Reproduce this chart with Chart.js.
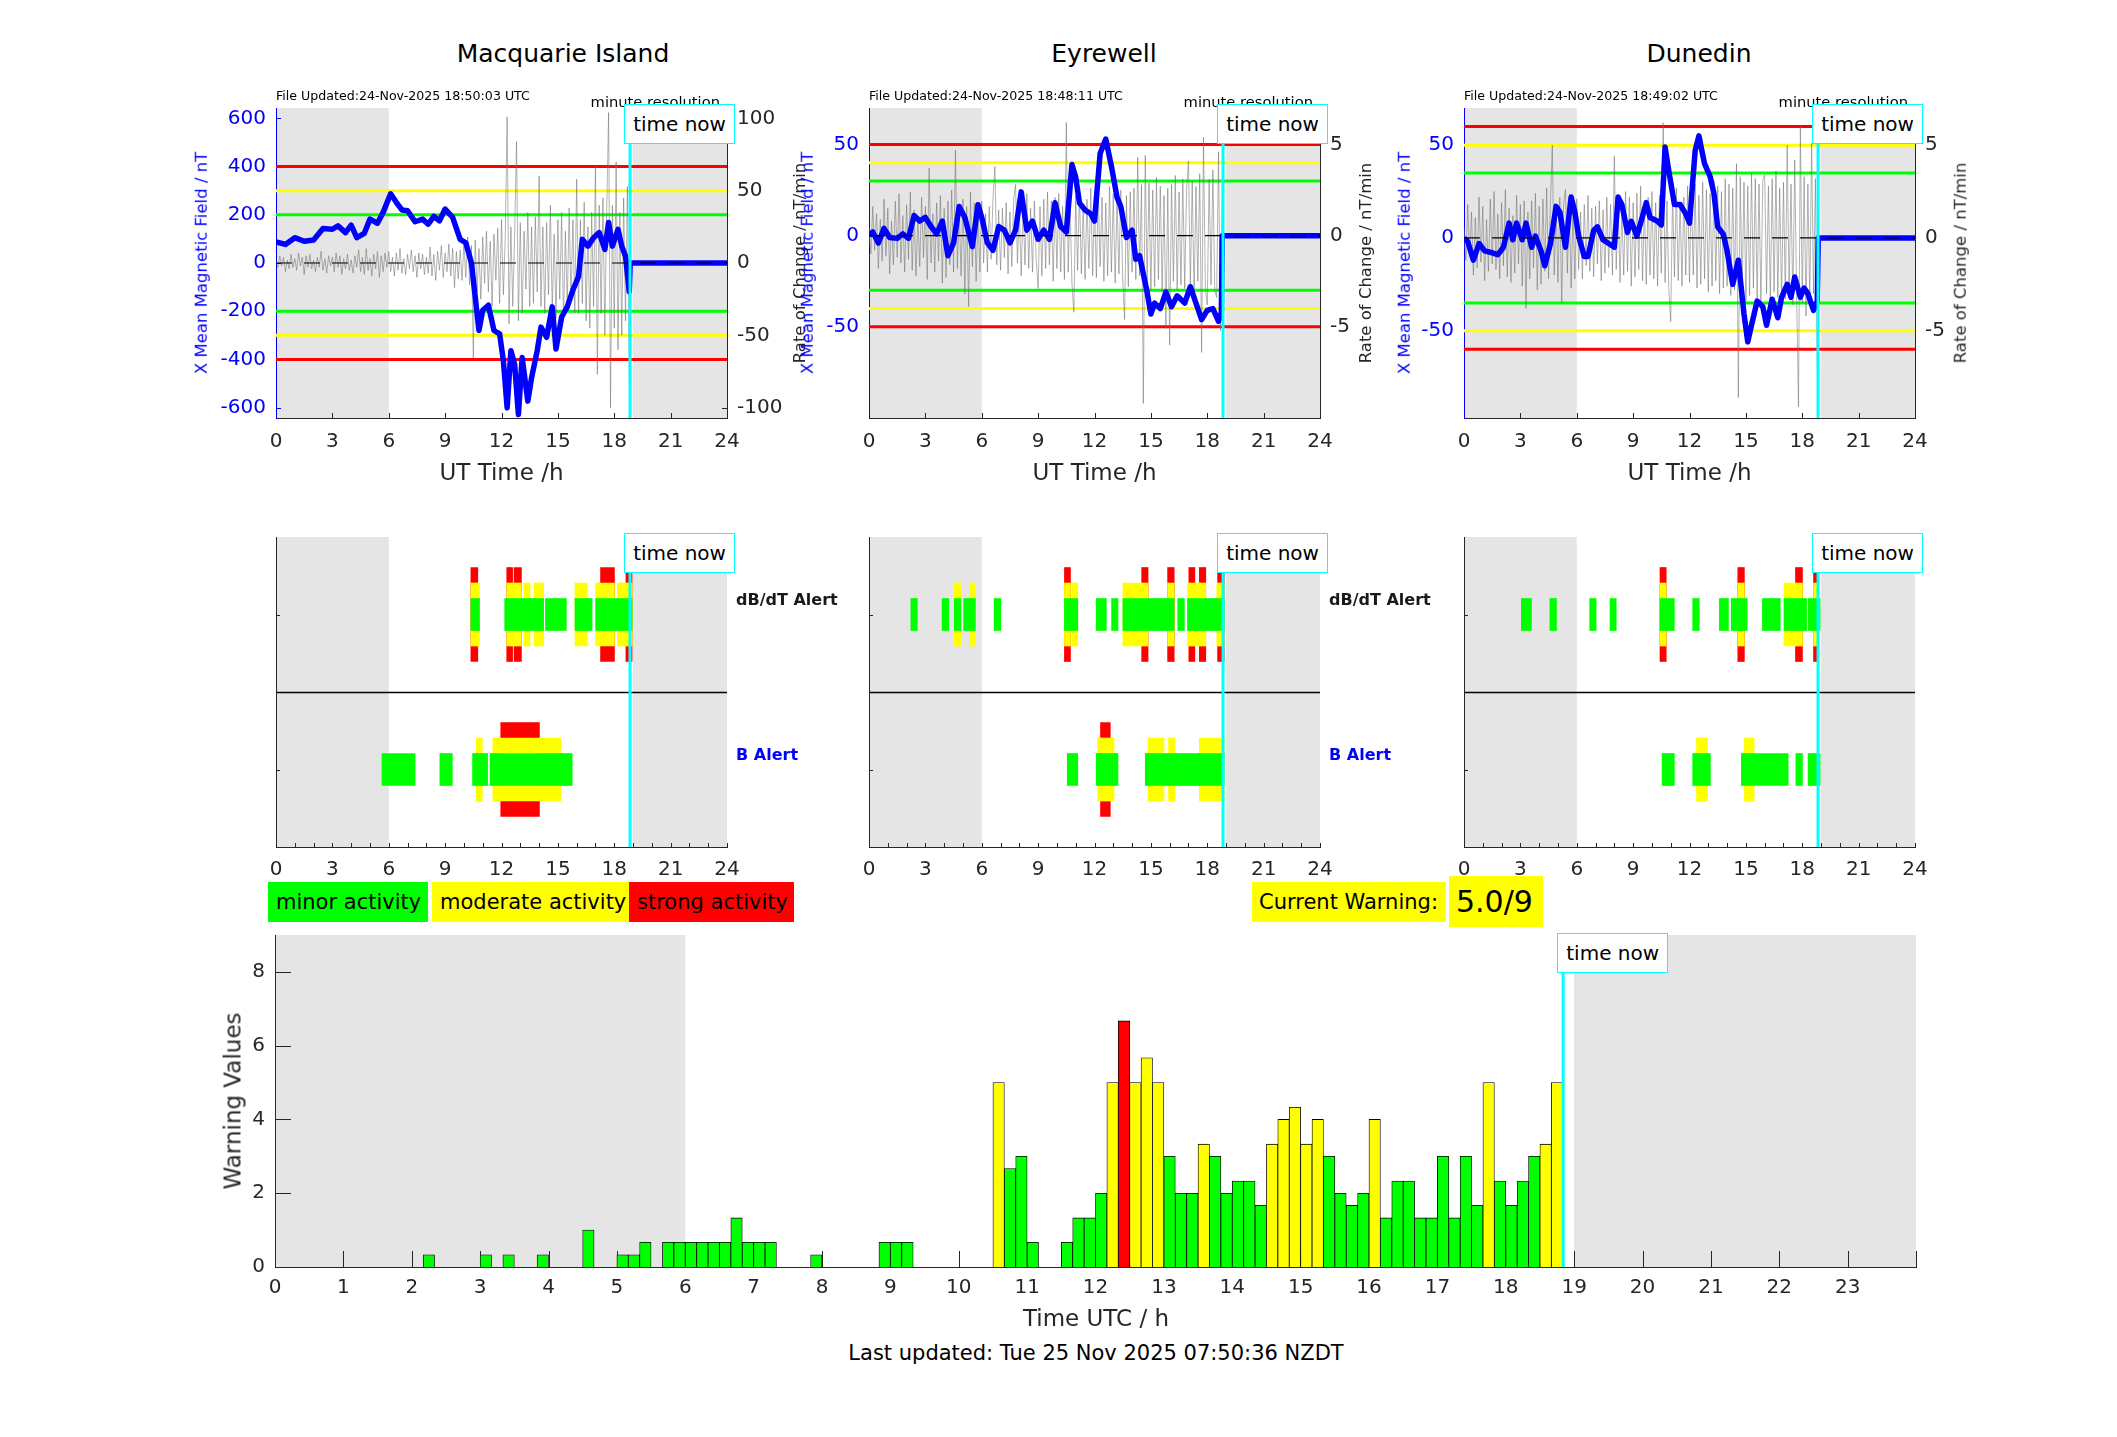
<!DOCTYPE html>
<html>
<head>
<meta charset="utf-8">
<title>Geomagnetic activity</title>
<script src="https://cdn.jsdelivr.net/npm/chart.js@4.4.1/dist/chart.umd.min.js"></script>
<style>
  html, body { margin: 0; padding: 0; background: #fff; }
  #page { position: relative; width: 2117px; height: 1437px; overflow: hidden; font-family: 'DejaVu Sans', sans-serif; }
  #page canvas { position: absolute; }
  .t { position: absolute; white-space: nowrap; line-height: 1; color: #000; }
  .box { position: absolute; box-sizing: border-box; display: flex; align-items: center; white-space: nowrap; line-height: 1; color: #000; }
</style>
</head>
<body>
<div id="page"></div>
<script>
// ---------------- data ----------------
const nowHour = 18.84;
const shadeRanges = [[0, 6], [19, 24]];
const topTicksX = [0, 3, 6, 9, 12, 15, 18, 21, 24];
const hourTicks = [0,1,2,3,4,5,6,7,8,9,10,11,12,13,14,15,16,17,18,19,20,21,22,23,24];

// X mean magnetic field, [hour, nT]
const macField = [[0,88],[0.5,77],[1,105],[1.5,90],[2,95],[2.5,143],[3,140],[3.3,154],[3.7,126],[4,157],[4.3,105],[4.7,123],[5,182],[5.4,165],[5.7,210],[6.1,287],[6.4,252],[6.7,220],[7,217],[7.4,171],[7.8,182],[8.1,161],[8.4,193],[8.7,175],[9,224],[9.4,189],[9.8,98],[10.1,84],[10.4,0],[10.6,-140],[10.8,-280],[11,-196],[11.3,-175],[11.6,-280],[11.9,-294],[12.1,-406],[12.3,-601],[12.5,-364],[12.7,-420],[12.9,-629],[13.1,-392],[13.4,-573],[13.6,-476],[13.9,-364],[14.1,-266],[14.4,-308],[14.7,-182],[14.9,-357],[15.2,-224],[15.5,-182],[15.8,-112],[16.1,-56],[16.3,98],[16.6,70],[16.9,105],[17.2,126],[17.5,56],[17.7,168],[17.9,70],[18.2,140],[18.4,70],[18.6,28],[18.8,-119],[18.85,0],[24,0]];
const eyrField = [[0,0],[0.2,2],[0.5,-4],[0.8,4],[1.1,-1],[1.5,-1.5],[1.8,1],[2.1,-1.5],[2.4,11],[2.7,8],[3,10],[3.3,5],[3.6,1],[3.9,8],[4.2,-11],[4.5,-4],[4.8,16],[5.1,10],[5.5,-6],[5.8,17],[6,10],[6.3,-4],[6.6,-8],[6.9,5],[7.2,3],[7.5,-4],[7.8,3],[8.1,24],[8.4,3],[8.7,8],[9,-2],[9.3,3],[9.6,-2],[9.9,18],[10.2,5],[10.5,2],[10.8,39],[11,32],[11.2,18],[11.5,14],[11.8,12],[12,8],[12.3,45],[12.6,53],[12.9,38],[13.2,21],[13.4,16],[13.7,-1],[14,3],[14.2,-13],[14.4,-11],[14.6,-21],[14.8,-31],[15,-43],[15.2,-37],[15.5,-40],[15.8,-31],[16.1,-39],[16.4,-33],[16.8,-37],[17.1,-28],[17.4,-37],[17.7,-46],[18,-41],[18.3,-40],[18.6,-47],[18.75,-42],[18.8,0],[24,0]];
const dunField = [[0,0],[0.2,-2],[0.5,-12],[0.8,-3],[1.1,-7],[1.5,-8],[1.8,-9],[2.1,-5],[2.4,8],[2.6,-1],[2.8,8],[3.1,-1],[3.3,8],[3.6,-5],[3.8,1],[4.1,-7],[4.3,-15],[4.6,-3],[4.9,17],[5.1,14],[5.4,-5],[5.7,22],[5.9,14],[6.1,1],[6.4,-10],[6.6,-10],[6.9,4],[7.1,6],[7.4,-1],[7.7,-3],[8,-5],[8.2,22],[8.4,18],[8.7,3],[8.9,9],[9.2,1],[9.4,8],[9.7,19],[9.9,11],[10.3,9],[10.5,7],[10.7,49],[10.9,36],[11.2,18],[11.5,18],[11.8,13],[12,8],[12.3,47],[12.5,55],[12.8,40],[13.1,33],[13.3,24],[13.5,6],[13.8,2],[14,-7],[14.3,-25],[14.6,-12],[14.9,-41],[15.1,-56],[15.3,-47],[15.6,-34],[15.9,-37],[16.1,-47],[16.4,-33],[16.7,-43],[16.9,-32],[17.2,-25],[17.4,-32],[17.6,-21],[17.9,-32],[18.1,-27],[18.3,-30],[18.6,-39],[18.8,-34],[18.85,0],[24,0]];

// rate of change, nT/min, one value every rocStep hours from 0
const rocStep = 0.1;
const macRoc = [
  1,-3,5,-2,4,-6,2,-4,6,-3, 3,-5,7,-2,4,-8,5,-3,6,-4, 2,-6,4,-3,8,-5,3,-7,5,-2,
  4,-6,7,-3,5,-8,3,-4,6,-5, 2,-7,5,-3,9,-6,4,-8,10,-5, 3,-9,6,-4,8,-10,5,-6,7,-3,
  8,-6,4,-9,7,-5,10,-7,3,-8, 6,-4,9,-6,5,-10,7,-4,6,-8, 4,-7,11,-9,6,-12,8,-5,12,-10,
  7,-6,13,-9,10,-17,8,-11,9,-12,
  14,-10,18,-15,12,-66,16,-20,10,-25, 18,-14,22,-20,15,-30,20,-12,24,-28,
  30,-22,18,101,-42,25,-30,20,84,-40, 28,-35,22,-18,35,-30,25,-28,32,-20,
  60,-30,25,-35,28,-22,40,-33,20,-38, 30,-25,35,-40,22,-30,38,-26,30,-35,
  58,-35,30,-28,42,-40,25,-45,35,-30, 67,-77,40,-35,45,-50,38,104,-100,40,
  -45,70,-60,35,-50,45,-40,53,-79];
const eyrRoc = [
  0.4,-1.0,1.6,-0.8,1.2,-1.8,0.9,-1.4,2.0,-1.1, 1.5,-2.1,0.8,-1.6,1.9,-1.2,2.3,-1.5,1.1,-2.0,
  1.7,-1.3,2.4,-1.9,1.4,-2.2,1.0,-1.7,2.1,-1.2, 1.6,-2.4,3.7,-1.5,1.2,-2.0,1.8,-1.4,2.2,-2.6,
  1.5,-2.3,1.9,-1.6,2.5,-2.0,4.7,-1.8,1.4,-2.2, 2.0,-3.2,1.6,-3.9,2.4,-1.7,1.8,-2.5,1.3,-2.0,
  1.9,-1.5,1.2,-2.0,1.6,-1.3,2.1,3.8,-1.6,1.4, -1.9,1.5,-1.2,1.8,-2.1,1.3,-1.7,2.0,2.8,-1.5,
  1.4,-2.2,1.7,-1.6,2.3,-1.8,1.5,-2.0,1.9,-1.4, -2.9,1.6,-2.2,2.0,-1.8,2.4,-1.6,1.9,-2.5,2.1,
  -1.8,2.3,-2.0,1.6,-2.4,6.2,-2.0,1.8,-2.6,-4.2, 2.2,-1.9,2.5,-2.1,1.7,-2.4,2.0,-1.8,2.6,-2.2,
  1.9,-2.3,2.4,-1.7,2.1,-2.5,1.8,-2.2,2.7,-2.0, 2.3,-2.6,1.9,-2.1,2.5,-2.4,-4.6,2.2,-2.8,2.4,
  -2.0,2.6,-2.4,4.3,-2.2,2.8,-9.2,4.4,-2.6,2.9, -3.0,2.5,-2.8,3.2,-2.4,2.7,-3.1,2.2,-5.1,2.6,
  -6.0,2.8,-2.5,3.3,-3.0,2.4,-2.7,3.1,-2.9,2.6, 4.1,-2.8,3.0,-3.3,2.7,-2.5,3.4,-6.4,5.4,-2.9,
  -3.8,3.1,-2.7,3.6,-3.0,-3.4,4.6,-5.2,2.8];
const dunRoc = [
  0.6,-1.2,1.8,-1.0,1.4,-2.0,1.1,-1.6,2.2,-1.3, 1.7,-2.3,1.0,-1.8,2.1,-1.4,2.5,-1.7,1.3,-2.2,
  1.9,-1.5,2.6,-2.1,1.6,-2.4,1.2,-1.9,2.3,-1.4, 1.8,-2.6,2.0,-3.8,1.4,-2.2,2.0,-1.6,2.4,-2.8,
  1.7,-2.5,2.1,-1.8,2.7,-2.2,1.9,5.0,-2.0,1.6, -2.4,2.2,-3.5,1.8,2.6,-1.9,2.0,-2.7,1.5,-2.2,
  2.1,-1.7,1.4,-2.2,1.8,-1.5,2.3,-1.8,1.6,-2.1, 1.7,-1.4,2.0,-2.3,1.5,-1.9,2.2,-1.6,1.8,-2.0,
  4.4,-1.7,2.1,-2.4,1.6,-2.0,2.5,-1.8,2.2,-2.6, 1.9,-2.1,2.4,-1.7,2.8,-2.3,1.8,-2.5,2.2,-2.0,
  2.5,-2.2,1.9,-2.6,2.3,-1.9,6.2,-2.4,2.0,-2.8, -4.5,2.4,-2.1,2.7,-2.3,1.9,-2.6,2.2,-2.0,2.8,
  -2.4,2.6,-2.0,2.9,-2.7,2.3,-2.5,3.0,-2.2,2.6, -2.9,2.4,-2.6,3.1,-2.3,2.8,-3.0,2.5,-2.7,3.2,
  -2.6,2.9,-3.1,2.7,-2.8,4.0,-8.6,3.3,-2.9,3.0, -3.4,2.8,-3.1,3.5,-2.7,3.2,-3.3,2.9,-3.6,3.1,
  3.4,-3.0,2.8,-3.5,3.2,-2.9,3.6,-3.2,2.7,-3.4, 3.0,-3.3,5.0,-3.1,2.9,-3.6,4.2,-3.0,-9.1,6.0,
  -3.5,3.3,-4.2,2.9,-3.4,5.1,-3.0,3.2,-7.1];

// alert thresholds: strong, moderate, minor (nT)
const macLevels = [400, 300, 200];
const eyrLevels = [50, 40, 30];
const dunLevels = [60, 50, 35];

const macTicks = [-600, -400, -200, 0, 200, 400, 600];
const macTicksR = [-100, -50, 0, 50, 100];
const nzTicks = [-50, 0, 50];
const nzTicksR = [-5, 0, 5];

// alert spans: [start h, end h, level 1 minor / 2 moderate / 3 strong]
const macDbdt = [[10.37,10.74,3],[10.74,10.83,2],[12.17,12.28,1],[12.28,12.59,3],[12.59,12.67,2],[12.67,13.06,3],[13.06,13.19,1],[13.19,13.52,2],[13.52,13.74,1],[13.74,14.24,2],[14.34,15.45,1],[15.91,16.56,2],[16.56,16.82,1],[17.01,17.27,2],[17.27,18.01,3],[18.01,18.16,1],[18.16,18.62,2],[18.62,18.95,3]];
const macB = [[5.64,7.40,1],[8.72,9.38,1],[10.46,10.66,1],[10.66,10.98,2],[10.98,11.26,1],[11.39,11.54,1],[11.54,11.96,2],[11.96,14.02,3],[14.02,15.15,2],[15.15,15.76,1]];
const eyrDbdt = [[2.23,2.57,1],[3.89,4.24,1],[4.54,4.88,2],[5.04,5.36,1],[5.36,5.66,2],[6.66,7.01,1],[10.40,10.72,3],[10.72,10.79,1],[10.79,11.11,2],[12.09,12.63,1],[12.91,13.25,1],[13.51,14.51,2],[14.51,14.85,3],[14.85,15.89,1],[15.89,16.24,3],[16.43,16.78,1],[16.95,17.02,2],[17.02,17.34,3],[17.34,17.58,2],[17.58,17.92,3],[17.92,18.51,1],[18.51,18.55,2],[18.55,18.9,3]];
const eyrB = [[10.55,11.11,1],[12.09,12.17,1],[12.17,12.32,2],[12.32,12.84,3],[12.84,13.04,2],[13.04,13.25,1],[14.70,14.85,1],[14.85,15.70,2],[15.70,15.94,1],[15.94,16.28,2],[16.28,17.58,1],[17.58,18.9,2]];
const dunDbdt = [[3.05,3.59,1],[4.57,4.92,1],[6.69,7.03,1],[7.77,8.10,1],[10.43,10.76,3],[10.76,11.19,1],[12.17,12.52,1],[13.59,14.07,1],[14.22,14.57,1],[14.57,14.92,3],[14.92,15.07,1],[15.88,16.83,1],[17.03,17.64,2],[17.64,18.01,3],[18.01,18.23,1],[18.31,18.60,1],[18.60,18.82,3],[18.82,18.95,1]];
const dunB = [[10.54,11.19,1],[12.17,12.37,1],[12.37,12.96,2],[12.96,13.11,1],[14.76,14.92,1],[14.92,15.44,2],[15.44,17.25,1],[17.66,18.01,1],[18.31,18.95,1]];

// warning values, one per 10-minute bin from 00:00
const binHours = 1 / 6;
const warnValues = [
  0,0,0,0,0,0,
  0,0,0,0,0,0,
  0,0.33,0,0,0,0,
  0.33,0,0.33,0,0,0.33,
  0,0,0,1,0,0,
  0.33,0.33,0.67,0,0.67,0.67,
  0.67,0.67,0.67,0.67,1.33,0.67,
  0.67,0.67,0,0,0,0.33,
  0,0,0,0,0,0.67,
  0.67,0.67,0,0,0,0,
  0,0,0,5,2.67,3,
  0.67,0,0,0.67,1.33,1.33,
  2,5,6.67,5,5.67,5,
  3,2,2,3.33,3,2,
  2.33,2.33,1.67,3.33,4,4.33,
  3.33,4,3,2,1.67,2,
  4,1.33,2.33,2.33,1.33,1.33,
  3,1.33,3,1.67,5,2.33,
  1.67,2.33,3,3.33,5];
const warnTicksY = [0, 2, 4, 6, 8];

// ---------------- layout ----------------
const page = document.getElementById('page');
const panelX = [276, 869, 1464];
const panelW = 451;
const TOP = {y0: 108, y1: 418};
const MID = {y0: 537, y1: 847};
const BOT = {x0: 275, x1: 1916, y0: 935, y1: 1267};
const PADL = 100, PADR = 90, PADT = 26, PADB = 45;
const levelColors = ['#ff0000', '#ffff00', '#00ff00'];
const alertFill = ['#00ff00', '#ffff00', '#ff0000'];
const alertThick = [32, 63, 94];
const ink = '#262626';

Chart.defaults.font.family = "'DejaVu Sans', sans-serif";
Chart.defaults.color = ink;

const stations = [
  {name: 'Macquarie Island', file: 'File Updated:24-Nov-2025 18:50:03 UTC', field: macField, roc: macRoc,
   levels: macLevels, yMin: -643, yMax: 643, ratio: 6, ticks: macTicks, ticksR: macTicksR,
   dbdt: macDbdt, b: macB, titleX: 563, leftLabX: 202, rightLabX: 800, alertLab: true},
  {name: 'Eyrewell', file: 'File Updated:24-Nov-2025 18:48:11 UTC', field: eyrField, roc: eyrRoc,
   levels: eyrLevels, yMin: -100, yMax: 70, ratio: 10, ticks: nzTicks, ticksR: nzTicksR,
   dbdt: eyrDbdt, b: eyrB, titleX: 1104, leftLabX: 808, rightLabX: 1366, alertLab: true},
  {name: 'Dunedin', file: 'File Updated:24-Nov-2025 18:49:02 UTC', field: dunField, roc: dunRoc,
   levels: dunLevels, yMin: -97, yMax: 70, ratio: 10, ticks: nzTicks, ticksR: nzTicksR,
   dbdt: dunDbdt, b: dunB, titleX: 1699, leftLabX: 1405, rightLabX: 1961, alertLab: false}
];

function addCanvas(left, top, w, h) {
  const c = document.createElement('canvas');
  c.width = w; c.height = h;
  c.style.left = left + 'px'; c.style.top = top + 'px';
  c.style.width = w + 'px'; c.style.height = h + 'px';
  page.appendChild(c);
  return c;
}

function text(str, x, y, o = {}) {
  const d = document.createElement('div');
  d.className = 't';
  d.textContent = str;
  d.style.left = x + 'px'; d.style.top = y + 'px';
  d.style.fontSize = (o.size || 20) + 'px';
  if (o.color) d.style.color = o.color;
  if (o.bold) d.style.fontWeight = 'bold';
  const ax = o.align === 'left' ? '0' : o.align === 'right' ? '-100%' : '-50%';
  d.style.transform = 'translate(' + ax + ',-50%)' + (o.rot ? ' rotate(-90deg)' : '');
  page.appendChild(d);
  return d;
}

function box(str, x, y, w, h, o = {}) {
  const d = document.createElement('div');
  d.className = 'box';
  d.textContent = str;
  Object.assign(d.style, {left: x + 'px', top: y + 'px', width: w + 'px', height: h + 'px',
    fontSize: (o.size || 20) + 'px', background: o.bg || '#fff'});
  if (o.border) d.style.border = o.border;
  if (o.center) d.style.justifyContent = 'center';
  else d.style.paddingLeft = (o.pad || 8) + 'px';
  page.appendChild(d);
  return d;
}

function timeNowBox(chart, canvasLeft, plotTop) {
  const px = chart.scales.x.getPixelForValue(nowHour) + canvasLeft;
  box('time now', px - 6, plotTop - 4, 111, 40, {border: '1.5px solid #00ffff', center: true});
}

// shading, divider, inward ticks and "time now" line
function decor(cfg) {
  return {
    id: 'decor',
    beforeDraw(chart) {
      const {ctx, chartArea: a, scales} = chart;
      const sx = scales.x;
      ctx.save();
      ctx.fillStyle = '#e5e5e5';
      cfg.shade.forEach(r => {
        const p0 = sx.getPixelForValue(r[0]), p1 = sx.getPixelForValue(r[1]);
        ctx.fillRect(p0, a.top, p1 - p0, a.bottom - a.top);
      });
      if (cfg.divider !== undefined) {
        const py = Math.round(scales.y.getPixelForValue(cfg.divider)) + 0.5;
        ctx.strokeStyle = '#000'; ctx.lineWidth = 1.3;
        ctx.beginPath(); ctx.moveTo(a.left, py); ctx.lineTo(a.right, py); ctx.stroke();
      }
      ctx.lineWidth = 1;
      cfg.ticks.forEach(t => {
        const s = scales[t.id];
        ctx.strokeStyle = t.color || ink;
        t.values.forEach(v => {
          const p = Math.round(s.getPixelForValue(v)) + 0.5;
          ctx.beginPath();
          if (t.id === 'x') { ctx.moveTo(p, a.bottom); ctx.lineTo(p, a.bottom - t.len); }
          else if (s.position === 'left') { ctx.moveTo(a.left, p); ctx.lineTo(a.left + t.len, p); }
          else { ctx.moveTo(a.right, p); ctx.lineTo(a.right - t.len, p); }
          ctx.stroke();
        });
      });
      ctx.restore();
    },
    afterDatasetsDraw(chart) {
      const {ctx, chartArea: a} = chart;
      const px = chart.scales.x.getPixelForValue(cfg.now);
      ctx.save();
      ctx.strokeStyle = '#00ffff'; ctx.lineWidth = 3;
      ctx.beginPath(); ctx.moveTo(px, a.top); ctx.lineTo(px, a.bottom); ctx.stroke();
      ctx.restore();
    }
  };
}

const common = {
  responsive: false, animation: false, devicePixelRatio: 1, events: [],
  plugins: {legend: {display: false}, tooltip: {enabled: false}}
};

function xScale(vals, fmt, pad, h) {
  return {
    type: 'linear', min: 0, max: 24, offset: false,
    afterBuildTicks: s => { s.ticks = vals.map(v => ({value: v})); },
    ticks: {font: {size: 20}, color: ink, padding: pad, maxRotation: 0, autoSkip: false, callback: fmt},
    grid: {display: false, drawTicks: false},
    border: {color: ink, width: 1},
    afterFit: s => { s.height = h; }
  };
}

function yScale(pos, min, max, vals, color, w, showLabels) {
  return {
    type: 'linear', position: pos, min: min, max: max, offset: false,
    afterBuildTicks: s => { s.ticks = vals.map(v => ({value: v})); },
    ticks: {display: showLabels, font: {size: 20}, color: color, padding: 10, callback: v => String(v)},
    grid: {display: false, drawTicks: false},
    border: {color: color, width: 1},
    afterFit: s => { s.width = w; }
  };
}

function drawTop(st, x0) {
  const left = x0 - PADL, top = TOP.y0 - PADT;
  const cv = addCanvas(left, top, panelW + PADL + PADR, TOP.y1 - TOP.y0 + PADT + PADB);
  const ds = [
    {data: [{x: 0, y: 0}, {x: 24, y: 0}], yAxisID: 'y', borderColor: '#000', borderWidth: 1.2, borderDash: [16, 12], order: 0},
    {data: st.field.map(p => ({x: p[0], y: p[1]})), yAxisID: 'y', borderColor: '#0000ff', borderWidth: 5.5, order: 1},
    {data: st.roc.map((v, i) => ({x: +(i * rocStep).toFixed(2), y: v})), yAxisID: 'y2',
     borderColor: 'rgba(110,110,110,0.75)', borderWidth: 0.7, order: 2}
  ];
  st.levels.forEach((v, i) => [v, -v].forEach(s => ds.push({
    data: [{x: 0, y: s}, {x: 24, y: s}], yAxisID: 'y', borderColor: levelColors[i], borderWidth: 3, order: 3
  })));
  const chart = new Chart(cv, {
    type: 'line',
    data: {datasets: ds},
    options: Object.assign({}, common, {
      elements: {point: {radius: 0}, line: {tension: 0, borderJoinStyle: 'round'}},
      layout: {padding: {top: PADT, left: 0, right: 0, bottom: 0}},
      scales: {
        x: xScale(topTicksX, v => String(v), 12, PADB),
        y: yScale('left', st.yMin, st.yMax, st.ticks, '#0000ff', PADL, true),
        y2: yScale('right', st.yMin / st.ratio, st.yMax / st.ratio, st.ticksR, ink, PADR, true)
      }
    }),
    plugins: [decor({shade: shadeRanges, now: nowHour, ticks: [
      {id: 'x', values: topTicksX, len: 5},
      {id: 'y', values: st.ticks, len: 5, color: '#0000ff'},
      {id: 'y2', values: st.ticksR, len: 5}
    ]})]
  });
  text(st.name, st.titleX, 53, {size: 25});
  text(st.file, x0, 96, {size: 12.6, align: 'left'});
  text('minute resolution', x0 + panelW - 7, 102, {size: 14.7, align: 'right'});
  timeNowBox(chart, left, TOP.y0);
  text('UT Time /h', x0 + panelW / 2, 472, {size: 23, color: ink});
  text('Rate of Change / nT/min', st.rightLabX, 263, {size: 16.5, rot: true, color: ink});
  text('X Mean Magnetic Field / nT', st.leftLabX, 263, {size: 16.5, rot: true, color: '#0000ff'});
}

function drawMid(st, x0) {
  const left = x0 - PADL, top = MID.y0 - PADT;
  const cv = addCanvas(left, top, panelW + PADL + 60, MID.y1 - MID.y0 + PADT + PADB);
  const rows = [{spans: st.dbdt, y: 1.5}, {spans: st.b, y: 0.5}];
  const ds = [1, 2, 3].map(lvl => ({
    data: rows.flatMap(r => r.spans.filter(s => s[2] >= lvl).map(s => ({x: [s[0], s[1]], y: r.y}))),
    backgroundColor: alertFill[lvl - 1], barThickness: alertThick[lvl - 1], grouped: false,
    borderWidth: 0, order: lvl
  }));
  const chart = new Chart(cv, {
    type: 'bar',
    data: {datasets: ds},
    options: Object.assign({}, common, {
      indexAxis: 'y',
      layout: {padding: {top: PADT, left: 0, right: 60, bottom: 0}},
      scales: {
        x: xScale(hourTicks, v => (v % 3 === 0 ? String(v) : ''), 11, PADB),
        y: yScale('left', 0, 2, [0.5, 1.5], ink, PADL, false)
      }
    }),
    plugins: [decor({shade: shadeRanges, now: nowHour, divider: 1, ticks: [
      {id: 'x', values: hourTicks, len: 4},
      {id: 'y', values: [0.5, 1.5], len: 4}
    ]})]
  });
  timeNowBox(chart, left, MID.y0);
  if (st.alertLab) {
    text('dB/dT Alert', x0 + panelW + 9, 600, {size: 16, bold: true, align: 'left', color: '#1a1a1a'});
    text('B Alert', x0 + panelW + 9, 755, {size: 16, bold: true, align: 'left', color: '#0000ff'});
  }
}

function warnColor(v) {
  if (v >= 6.5) return '#ff0000';
  if (v >= 3.2) return '#ffff00';
  return '#00ff00';
}

function drawBottom() {
  const left = BOT.x0 - PADL, top = BOT.y0 - PADT;
  const cv = addCanvas(left, top, BOT.x1 - BOT.x0 + PADL + 40, BOT.y1 - BOT.y0 + PADT + 40);
  const pts = warnValues.map((v, i) => ({x: (i + 0.5) * binHours, y: v > 0 ? v : null}));
  const chart = new Chart(cv, {
    type: 'bar',
    data: {datasets: [{
      data: pts, backgroundColor: warnValues.map(warnColor), borderColor: '#000', borderWidth: 0.8,
      categoryPercentage: 1, barPercentage: 1, grouped: false
    }]},
    options: Object.assign({}, common, {
      layout: {padding: {top: PADT, left: 0, right: 40, bottom: 0}},
      scales: {
        x: xScale(hourTicks, v => (v < 24 ? String(v) : ''), 9, 40),
        y: yScale('left', 0, 9, warnTicksY, ink, PADL, true)
      }
    }),
    plugins: [decor({shade: shadeRanges, now: nowHour, ticks: [
      {id: 'x', values: hourTicks, len: 16},
      {id: 'y', values: warnTicksY, len: 16}
    ]})]
  });
  timeNowBox(chart, left, BOT.y0 + 2);
  text('Warning Values', 233, 1101, {size: 23, rot: true, color: ink});
  text('Time UTC / h', 1096, 1318, {size: 23, color: ink});
  text('Last updated: Tue 25 Nov 2025 07:50:36 NZDT', 1096, 1353, {size: 21});
}

stations.forEach((st, i) => { drawTop(st, panelX[i]); drawMid(st, panelX[i]); });
drawBottom();

// legend and current warning
box('minor activity', 268, 882, 160, 40, {bg: '#00ff00', size: 21});
box('moderate activity', 432, 882, 197, 40, {bg: '#ffff00', size: 21});
box('strong activity', 629, 882, 165, 40, {bg: '#ff0000', size: 21});
box('Current Warning:', 1252, 882, 194, 40, {bg: '#ffff00', size: 21, pad: 7});
box('5.0/9', 1449, 876, 94, 51, {bg: '#ffff00', size: 30, pad: 7});
</script>
</body>
</html>
